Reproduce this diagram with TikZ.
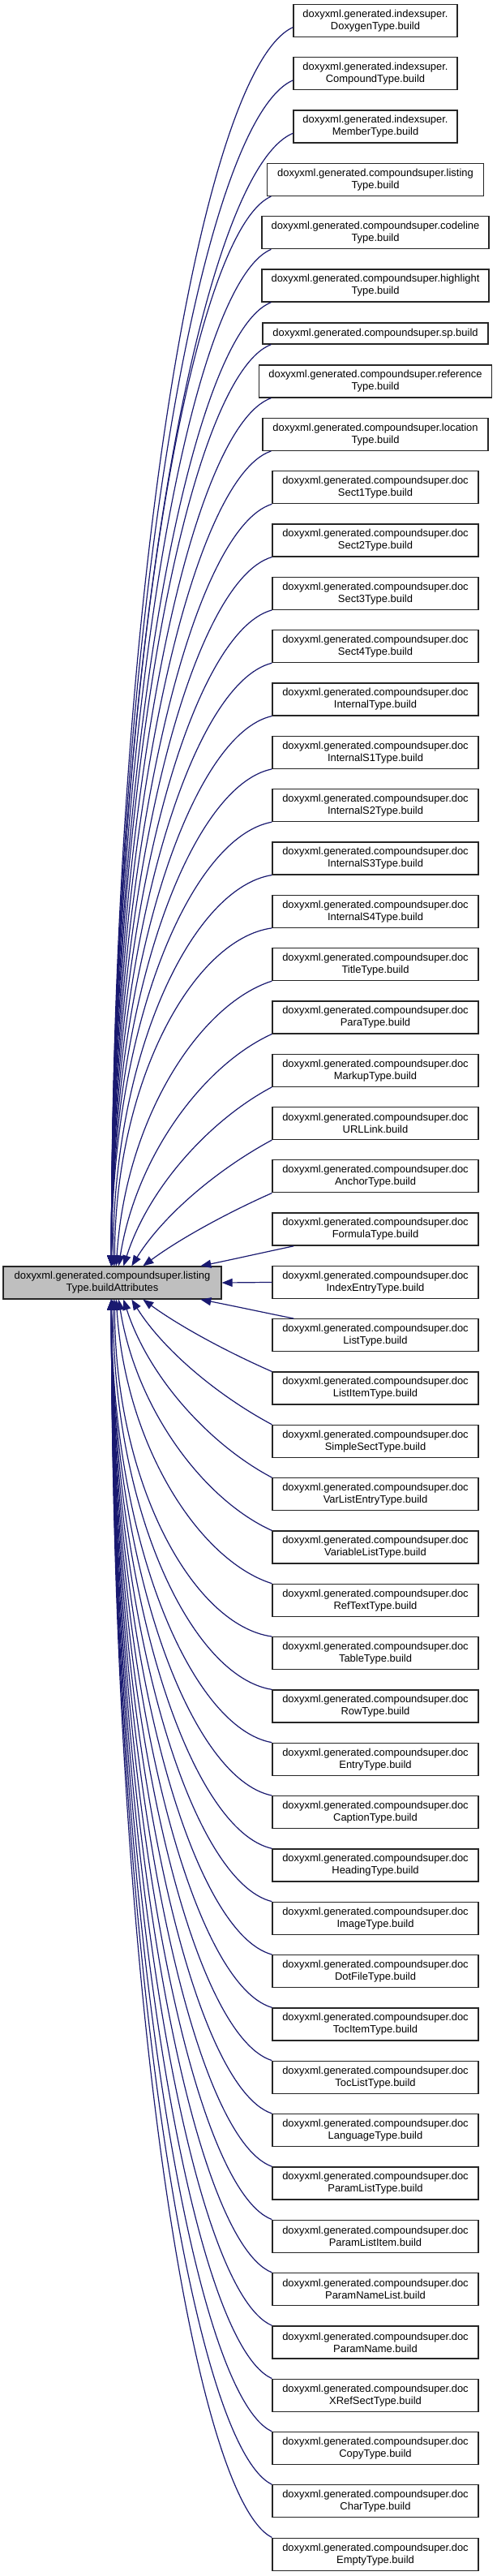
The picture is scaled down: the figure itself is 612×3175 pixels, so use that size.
\documentclass[tikz,border=0pt]{standalone}
\usepackage{fontspec}
\setmainfont{Liberation Sans}
\usetikzlibrary{arrows.meta,calc}
\definecolor{edgeblue}{HTML}{191970}
\definecolor{rootgray}{HTML}{BFBFBF}
\begin{document}
\begin{tikzpicture}[x=0.5pt,y=-0.5pt,
  box/.style={draw=black!85, line width=0.65pt, fill=white, align=center,
    font=\fontsize{6.47}{7.5}\selectfont, inner xsep=2pt, inner ysep=0pt},
  edge/.style={draw=edgeblue, line width=0.6pt, -{Triangle[length=6.5pt,width=5pt]}}]
\fill[white] (0,0) rectangle (612,3175);
\useasboundingbox (0,0) rectangle (612,3175);

\node[box, fill=rootgray, minimum width=134.5pt, minimum height=20pt] (L) at (138.5,1581)
  {doxyxml.generated.compoundsuper.listing\\Type.buildAttributes};

\foreach \i/\t/\bw/\bh in {
 0/{doxyxml.generated.indexsuper.\\DoxygenType.build}/202/20,
 1/{doxyxml.generated.indexsuper.\\CompoundType.build}/202/20,
 2/{doxyxml.generated.indexsuper.\\MemberType.build}/202/20,
 3/{doxyxml.generated.compoundsuper.listing\\Type.build}/267/20,
 4/{doxyxml.generated.compoundsuper.codeline\\Type.build}/280/20,
 5/{doxyxml.generated.compoundsuper.highlight\\Type.build}/280/20,
 6/{doxyxml.generated.compoundsuper.sp.build}/278/13,
 7/{doxyxml.generated.compoundsuper.reference\\Type.build}/287/20,
 8/{doxyxml.generated.compoundsuper.location\\Type.build}/278/20,
 9/{doxyxml.generated.compoundsuper.doc\\Sect1Type.build}/254/20,
 10/{doxyxml.generated.compoundsuper.doc\\Sect2Type.build}/254/20,
 11/{doxyxml.generated.compoundsuper.doc\\Sect3Type.build}/254/20,
 12/{doxyxml.generated.compoundsuper.doc\\Sect4Type.build}/254/20,
 13/{doxyxml.generated.compoundsuper.doc\\InternalType.build}/254/20,
 14/{doxyxml.generated.compoundsuper.doc\\InternalS1Type.build}/254/20,
 15/{doxyxml.generated.compoundsuper.doc\\InternalS2Type.build}/254/20,
 16/{doxyxml.generated.compoundsuper.doc\\InternalS3Type.build}/254/20,
 17/{doxyxml.generated.compoundsuper.doc\\InternalS4Type.build}/254/20,
 18/{doxyxml.generated.compoundsuper.doc\\TitleType.build}/254/20,
 19/{doxyxml.generated.compoundsuper.doc\\ParaType.build}/254/20,
 20/{doxyxml.generated.compoundsuper.doc\\MarkupType.build}/254/20,
 21/{doxyxml.generated.compoundsuper.doc\\URLLink.build}/254/20,
 22/{doxyxml.generated.compoundsuper.doc\\AnchorType.build}/254/20,
 23/{doxyxml.generated.compoundsuper.doc\\FormulaType.build}/254/20,
 24/{doxyxml.generated.compoundsuper.doc\\IndexEntryType.build}/254/20,
 25/{doxyxml.generated.compoundsuper.doc\\ListType.build}/254/20,
 26/{doxyxml.generated.compoundsuper.doc\\ListItemType.build}/254/20,
 27/{doxyxml.generated.compoundsuper.doc\\SimpleSectType.build}/254/20,
 28/{doxyxml.generated.compoundsuper.doc\\VarListEntryType.build}/254/20,
 29/{doxyxml.generated.compoundsuper.doc\\VariableListType.build}/254/20,
 30/{doxyxml.generated.compoundsuper.doc\\RefTextType.build}/254/20,
 31/{doxyxml.generated.compoundsuper.doc\\TableType.build}/254/20,
 32/{doxyxml.generated.compoundsuper.doc\\RowType.build}/254/20,
 33/{doxyxml.generated.compoundsuper.doc\\EntryType.build}/254/20,
 34/{doxyxml.generated.compoundsuper.doc\\CaptionType.build}/254/20,
 35/{doxyxml.generated.compoundsuper.doc\\HeadingType.build}/254/20,
 36/{doxyxml.generated.compoundsuper.doc\\ImageType.build}/254/20,
 37/{doxyxml.generated.compoundsuper.doc\\DotFileType.build}/254/20,
 38/{doxyxml.generated.compoundsuper.doc\\TocItemType.build}/254/20,
 39/{doxyxml.generated.compoundsuper.doc\\TocListType.build}/254/20,
 40/{doxyxml.generated.compoundsuper.doc\\LanguageType.build}/254/20,
 41/{doxyxml.generated.compoundsuper.doc\\ParamListType.build}/254/20,
 42/{doxyxml.generated.compoundsuper.doc\\ParamListItem.build}/254/20,
 43/{doxyxml.generated.compoundsuper.doc\\ParamNameList.build}/254/20,
 44/{doxyxml.generated.compoundsuper.doc\\ParamName.build}/254/20,
 45/{doxyxml.generated.compoundsuper.doc\\XRefSectType.build}/254/20,
 46/{doxyxml.generated.compoundsuper.doc\\CopyType.build}/254/20,
 47/{doxyxml.generated.compoundsuper.doc\\CharType.build}/254/20,
 48/{doxyxml.generated.compoundsuper.doc\\EmptyType.build}/254/20}{
  \pgfmathsetmacro\cy{(\i<=5)?(25.5+65.3*\i):((\i==6)?411:(470+65.32*(\i-7)))}
  \node[box, minimum width=\bw*0.5pt, minimum height=\bh pt] (n\i) at (463,\cy) {\t};
}

\foreach \i in {0,...,48}{
  \pgfmathtruncatemacro\d{\i-24}
  \pgfmathtruncatemacro\ad{abs(\d)}
  \ifnum\ad=0
    \draw[edge] (n24.west) -- (L.east);
  \else
    \pgfmathsetmacro\cy{(\i<=5)?(25.5+65.3*\i):((\i==6)?411:(470+65.32*(\i-7)))}
    \pgfmathsetmacro\sg{(\d<0)?1:-1}
    \pgfmathsetmacro\hh{(\i==6)?13:20}
    \pgfmathsetmacro\xl{(\i<3)?362:((\i==3)?329.5:((\i==4||\i==5)?323:((\i==6)?324:((\i==7)?319.5:((\i==8)?324:336)))))}
    \pgfmathsetmacro\Sx{(\ad==1)?363:((\i<3)?362:max(\xl,335))}
    \pgfmathsetmacro\Sy{(\i<3)?(\cy+7.5):(\cy+\sg*\hh)}
    \pgfmathsetmacro\Ex{(\ad==1)?248:((\ad==2)?177:((\ad==3)?163:((\ad==4)?153:((\ad==5)?147:((\ad==6)?144:((\ad==7)?142:((\ad==8)?140:138)))))))}
    \pgfmathsetmacro\Ey{1581-\sg*20}
    \pgfmathsetmacro\w{min(1,(\ad-1)/6)}
    \pgfmathsetmacro\dx{\Sx-\Ex}
    \pgfmathsetmacro\dy{abs(\Ey-\Sy)}
    \pgfmathsetmacro\Cax{\Sx-\dx*(1/3+\w/6)}
    \pgfmathsetmacro\Cay{\Sy+\sg*\dy*(1/3-0.3*\w)}
    \pgfmathsetmacro\Cbx{\Ex+\dx*(1-\w)/3}
    \pgfmathsetmacro\Cby{\Ey-\sg*\dy*(1/3+0.217*\w)}
    \pgfmathsetmacro\exs{(\Ex-4)*0.5}
    \pgfmathsetmacro\sxs{(\Sx-\xl)*0.5}
    \pgfmathsetmacro\sys{(\i<3)?6.25:0}
    \ifnum\d<0 \def\sa{south west}\def\ea{north west}\else \def\sa{north west}\def\ea{south west}\fi
    \draw[edge] ([xshift=\sxs pt, yshift=\sys pt]n\i.\sa) .. controls (\Cax,\Cay) and (\Cbx,\Cby) .. ([xshift=\exs pt]L.\ea);
  \fi
}
\end{tikzpicture}
\end{document}
